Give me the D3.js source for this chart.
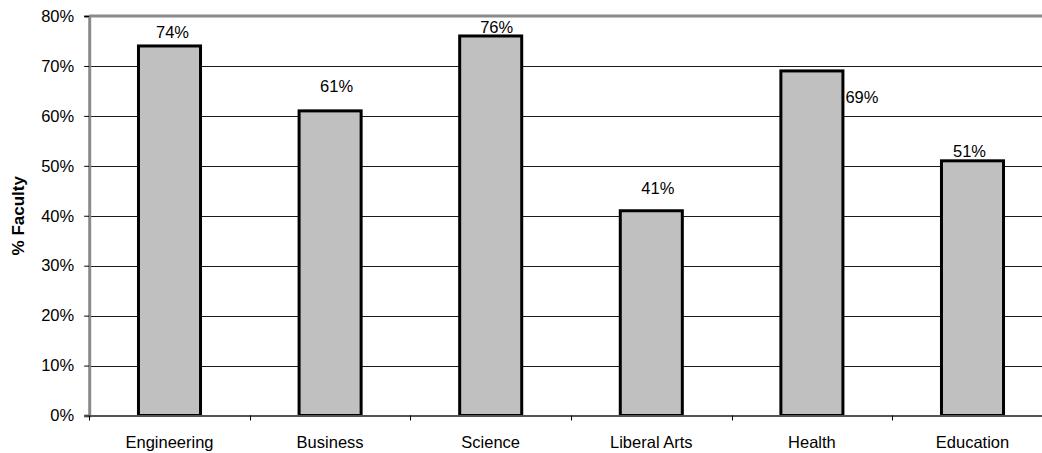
<!DOCTYPE html>
<html>
<head>
<meta charset="utf-8">
<script src="https://cdn.jsdelivr.net/npm/d3@7"></script>
<style>
  html, body { margin: 0; padding: 0; background: #fff; }
  svg { display: block; }
  text { font-family: Arial, "Liberation Sans", sans-serif; fill: #000; }
</style>
</head>
<body>
<svg id="chart" width="1042" height="453"></svg>
<script>
// Share of faculty by college
const categories = ["Engineering", "Business", "Science", "Liberal Arts", "Health", "Education"];
const values = [0.74, 0.61, 0.76, 0.41, 0.69, 0.51];
const yTicks = [0, 0.1, 0.2, 0.3, 0.4, 0.5, 0.6, 0.7, 0.8];
const yTitle = "% Faculty";

// Hand-placed value labels: [dx from bar centre, dy from bar top]
const labelNudge = [[3, -8], [6.5, -19], [6, -2.5], [6.5, -17], [50, 32], [-3, -4]];

const svg = d3.select("#chart");
const plot = { left: 89.2, right: 1052.8, top: 16, bottom: 415.5 };

const x = d3.scaleBand().domain(categories).range([plot.left, plot.right]).padding(0);
const y = d3.scaleLinear().domain([0, 0.8]).range([plot.bottom, plot.top]);
const barW = x.bandwidth() * 0.405;
const pct = d3.format(".0%");

// Horizontal gridlines
svg.append("g").selectAll("line")
  .data(yTicks.filter(t => t > 0 && t < 0.8))
  .join("line")
  .attr("x1", plot.left).attr("x2", plot.right)
  .attr("y1", d => Math.round(y(d)) + 0.5).attr("y2", d => Math.round(y(d)) + 0.5)
  .attr("stroke", "#1a1a1a").attr("stroke-width", 1);

// Plot-area top border
svg.append("line")
  .attr("x1", plot.left).attr("x2", plot.right)
  .attr("y1", y(0.8)).attr("y2", y(0.8))
  .attr("stroke", "#8a8a8a").attr("stroke-width", 3);

// Y axis
const yAxis = d3.axisLeft(y).tickValues(yTicks).tickFormat(pct).tickSize(5).tickPadding(10);
const gy = svg.append("g").attr("transform", `translate(${plot.left},0)`).call(yAxis);
gy.select(".domain").attr("stroke", "#8a8a8a").attr("stroke-width", 3);
gy.selectAll(".tick line").attr("stroke", "#000");
gy.selectAll(".tick text")
  .attr("font-size", 16.5)
  .attr("font-family", "Arial, 'Liberation Sans', sans-serif")
  .attr("fill", "#000");

// Bars
svg.append("g").selectAll("rect")
  .data(values)
  .join("rect")
  .attr("x", (d, i) => x(categories[i]) + x.bandwidth() / 2 - barW / 2 + 1.5)
  .attr("width", barW - 3)
  .attr("y", d => y(d))
  .attr("height", d => plot.bottom - y(d))
  .attr("fill", "#c0c0c0")
  .attr("stroke", "#000")
  .attr("stroke-width", 3);

// X axis
const xAxis = d3.axisBottom(x).tickSize(0).tickPadding(0).tickFormat(() => "");
const gx = svg.append("g").attr("transform", `translate(0,${plot.bottom})`).call(xAxis);
gx.select(".domain").attr("stroke", "#555").attr("stroke-width", 2);
gx.selectAll(".tick").remove();

// Category separators below the axis
svg.append("g").selectAll("line")
  .data(d3.range(categories.length + 1))
  .join("line")
  .attr("x1", i => Math.round(plot.left + i * x.step()) + 0.5)
  .attr("x2", i => Math.round(plot.left + i * x.step()) + 0.5)
  .attr("y1", plot.bottom).attr("y2", plot.bottom + 5)
  .attr("stroke", "#000");

// Category labels
svg.append("g").selectAll("text")
  .data(categories)
  .join("text")
  .attr("x", d => x(d) + x.bandwidth() / 2)
  .attr("y", 448)
  .attr("text-anchor", "middle")
  .attr("font-size", 16.5)
  .text(d => d);

// Value labels
svg.append("g").selectAll("text")
  .data(values)
  .join("text")
  .attr("x", (d, i) => x(categories[i]) + x.bandwidth() / 2 + labelNudge[i][0])
  .attr("y", (d, i) => y(d) + labelNudge[i][1])
  .attr("text-anchor", "middle")
  .attr("font-size", 16.5)
  .text(d => pct(d));

// Y axis title
svg.append("text")
  .attr("transform", `translate(24,${(plot.top + plot.bottom) / 2}) rotate(-90)`)
  .attr("text-anchor", "middle")
  .attr("font-size", 17)
  .attr("font-weight", "bold")
  .text(yTitle);
</script>
</body>
</html>
